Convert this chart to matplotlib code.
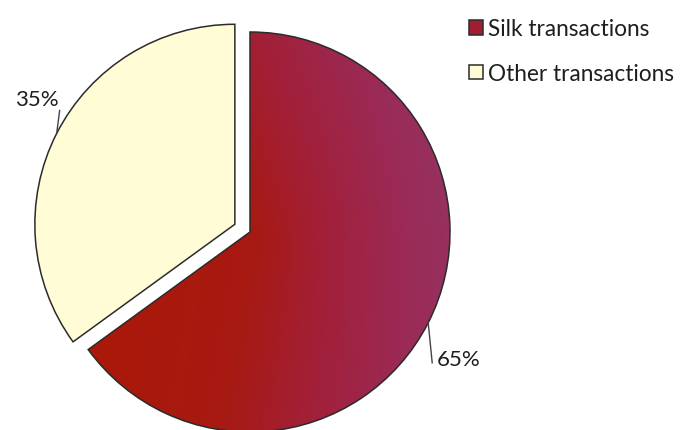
import numpy as np
import matplotlib.pyplot as plt
from matplotlib.colors import LinearSegmentedColormap

labels = ['Silk transactions', 'Other transactions']
shares = [65, 35]
pct_text = ['65%', '35%']

RED = '#A31C14'
CREAM = '#FFFCD6'
EDGE = '#2b2b2b'

plt.rcParams['font.family'] = ['Lato', 'DejaVu Sans']

fig = plt.figure(figsize=(6.86, 4.31), dpi=100)
ax = fig.add_axes([0, 0, 1, 1])

# 1 data unit = radius (200 px); pie centre at px (250, 233)
wedges, _ = ax.pie(shares, colors=[RED, CREAM], startangle=90, counterclock=False,
                   explode=[0, 0.085], radius=1,
                   wedgeprops=dict(edgecolor=EDGE, linewidth=1.1))

# gradient fill for the silk wedge (brick red on the left -> plum on the right)
red = wedges[0]
cmap = LinearSegmentedColormap.from_list(
    'silk', [(0, '#AA1808'), (0.3, '#A71A12'), (0.55, '#A2203A'), (0.8, '#9B2A55'), (1, '#963262')])
gx, gy = np.meshgrid(np.linspace(-1, 1, 300), np.linspace(-1, 1, 300))
grad = 0.8 * gx + 0.1 * gy + 0.25 * np.hypot(gx, gy)
im = ax.imshow(grad, extent=(-1, 1, -1, 1), origin='lower', cmap=cmap,
               vmin=-0.45, vmax=1.1,
               zorder=red.get_zorder() - 0.01, interpolation='bilinear')
im.set_clip_path(red)
red.set_facecolor('none')
red.set_zorder(im.get_zorder() + 0.02)

# percent labels with short leader lines at each wedge's mid angle
for w, txt in zip(wedges, pct_text):
    mid = np.deg2rad((w.theta1 + w.theta2) / 2)
    cx, cy = w.center
    px, py = cx + w.r * np.cos(mid), cy + w.r * np.sin(mid)
    if py > cy:
        ex, ey = px + 0.015, py + 0.115
        ax.plot([px, ex], [py, ey], color='#444444', lw=1)
        ax.text(ex - 0.005, ey + 0.005, txt, ha='right', va='bottom', fontsize=16, color='#1e1e1e')
    else:
        ex, ey = px + 0.02, py - 0.2
        ax.plot([px, ex], [py, ey], color='#444444', lw=1)
        ax.text(ex + 0.025, ey + 0.02, txt, ha='left', va='center', fontsize=16, color='#1e1e1e')

leg = ax.legend(wedges, labels, loc='upper left', bbox_to_anchor=(0.661, 0.992),
                frameon=False, fontsize=16.3, handlelength=0.62, handleheight=0.62,
                handletextpad=0.2, labelspacing=1.05, borderaxespad=0.3)
leg.legend_handles[0].set_facecolor('#A01E30')
for t in leg.get_texts():
    t.set_color('#1e1e1e')

ax.set_xlim(-1.25, 2.18)
ax.set_ylim(-0.99, 1.165)
ax.set_aspect('equal')
ax.axis('off')

fig.savefig('out.png', dpi=100)
